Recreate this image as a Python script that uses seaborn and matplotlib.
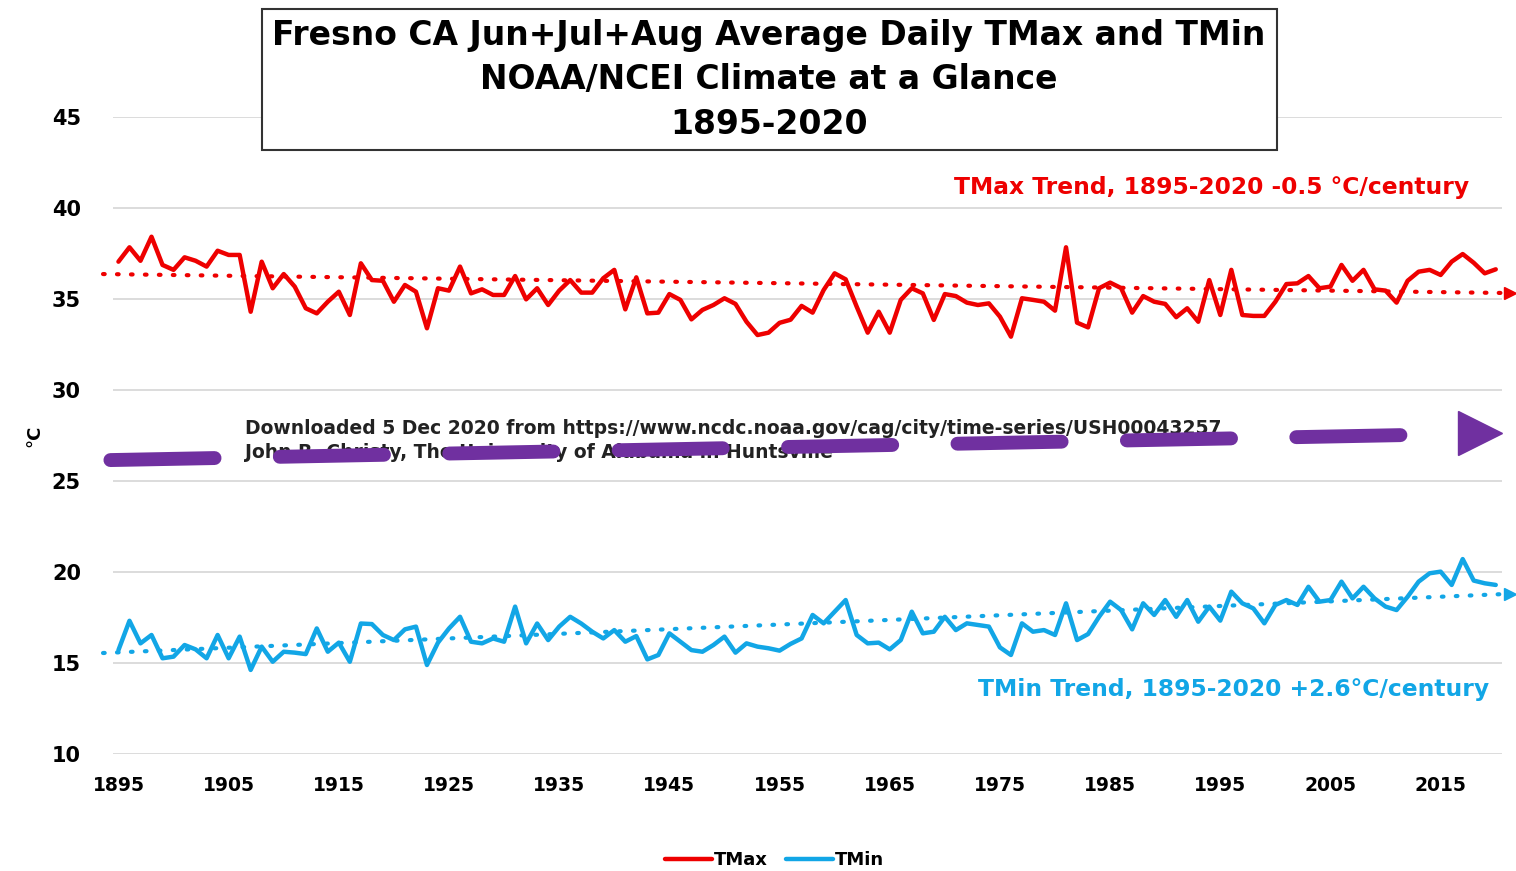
import numpy as np
import pandas as pd
import seaborn as sns
import matplotlib.pyplot as plt
from matplotlib.patches import Rectangle

# Fresno CA, Jun+Jul+Aug average daily TMax / TMin (deg C)
years = list(range(1895, 2021))
tmax = [37.05, 37.84, 37.10, 38.42, 36.87, 36.60, 37.29, 37.10, 36.78, 37.65,
        37.42, 37.42, 34.30, 37.05, 35.59, 36.37, 35.68, 34.49, 34.21, 34.85,
        35.40, 34.12, 36.96, 36.04, 36.00, 34.85, 35.77, 35.40, 33.39, 35.59,
        35.46, 36.78, 35.31, 35.53, 35.22, 35.22, 36.26, 34.98, 35.59, 34.67,
        35.46, 36.04, 35.35, 35.35, 36.14, 36.60, 34.43, 36.19, 34.21, 34.25,
        35.27, 34.95, 33.88, 34.40, 34.67, 35.04, 34.73, 33.75, 33.02, 33.15,
        33.69, 33.86, 34.62, 34.25, 35.49, 36.41, 36.08, 34.58, 33.15, 34.30,
        33.15, 34.95, 35.59, 35.31, 33.85, 35.27, 35.16, 34.80, 34.67, 34.76,
        34.03, 32.93, 35.04, 34.95, 34.85, 34.36, 37.84, 33.70, 33.44, 35.59,
        35.90, 35.60, 34.25, 35.16, 34.85, 34.73, 34.00, 34.49, 33.75, 36.04,
        34.12, 36.60, 34.12, 34.07, 34.07, 34.85, 35.82, 35.86, 36.26, 35.59,
        35.68, 36.87, 36.00, 36.60, 35.53, 35.46, 34.80, 36.00, 36.50, 36.60,
        36.32, 37.05, 37.47, 36.99, 36.41, 36.63]
tmin = [15.71, 17.32, 16.08, 16.54, 15.26, 15.35, 15.99, 15.75, 15.26, 16.54,
        15.26, 16.45, 14.62, 15.90, 15.07, 15.62, 15.57, 15.49, 16.90, 15.62,
        16.12, 15.07, 17.17, 17.14, 16.54, 16.26, 16.85, 17.00, 14.89, 16.12,
        16.90, 17.54, 16.17, 16.08, 16.35, 16.17, 18.10, 16.08, 17.17, 16.26,
        17.00, 17.54, 17.17, 16.72, 16.35, 16.81, 16.17, 16.48, 15.20, 15.44,
        16.63, 16.17, 15.71, 15.62, 15.99, 16.45, 15.57, 16.08, 15.90, 15.81,
        15.68, 16.05, 16.35, 17.64, 17.18, 17.82, 18.46, 16.54, 16.08, 16.12,
        15.75, 16.26, 17.82, 16.63, 16.72, 17.54, 16.81, 17.18, 17.09, 17.00,
        15.86, 15.44, 17.18, 16.72, 16.81, 16.54, 18.28, 16.26, 16.59, 17.54,
        18.37, 17.91, 16.85, 18.28, 17.64, 18.46, 17.54, 18.46, 17.27, 18.10,
        17.33, 18.92, 18.28, 18.00, 17.18, 18.19, 18.46, 18.19, 19.19, 18.37,
        18.46, 19.47, 18.55, 19.19, 18.55, 18.10, 17.91, 18.64, 19.47, 19.93,
        20.02, 19.29, 20.71, 19.53, 19.38, 19.29]
# trend lines as drawn on the chart (start / end values)
trend_years = [1893.6, 2020.8]
tmax_trend = [36.37, 35.33]
tmin_trend = [15.55, 18.79]
series_names = ['TMax', 'TMin']
xtick_years = list(range(1895, 2016, 10))
yticks = list(range(10, 46, 5))

red = '#EE0000'
blue = '#12A6E6'
purple = '#7030A0'

df = pd.DataFrame({
    'year': years * 2,
    'value': tmax + tmin,
    'series': ['TMax'] * len(years) + ['TMin'] * len(years),
})

sns.set_theme(style='white')
plt.rcParams['font.family'] = ['DejaVu Sans']
plt.rcParams['font.weight'] = 'bold'
plt.rcParams['text.color'] = 'black'
plt.rcParams['xtick.color'] = 'black'
plt.rcParams['ytick.color'] = 'black'
plt.rcParams['axes.labelcolor'] = 'black'

fig = plt.figure(figsize=(15.16, 8.71), dpi=100)
ax = fig.add_axes([0.0745, 0.1343, 0.9165, 0.7314])

sns.lineplot(data=df, x='year', y='value', hue='series',
             palette={'TMax': red, 'TMin': blue}, linewidth=3.2, ax=ax, legend=False)

# dotted trend lines with small arrowheads
for tr, col in [(tmax_trend, red), (tmin_trend, blue)]:
    ax.plot(trend_years, tr, color=col, lw=3.0, dashes=(0.4, 2.95),
            dash_capstyle='round', clip_on=False, zorder=3)
    slope = (tr[1] - tr[0]) / (trend_years[1] - trend_years[0])
    ax.plot(trend_years[1] + 0.5, tr[1] + slope * 0.5, marker='>', ms=8,
            color=col, clip_on=False, zorder=3)

ax.set_xlim(1894.5, 2020.6)
ax.set_ylim(10, 45)
ax.set_xticks(xtick_years)
ax.set_yticks(yticks)
ax.tick_params(axis='x', labelsize=13.5, pad=16, length=0)
ax.tick_params(axis='y', labelsize=15, pad=23, length=0)
for lab in ax.get_xticklabels() + ax.get_yticklabels():
    lab.set_fontweight('bold')
ax.grid(axis='y', color='#D9D9D9', lw=1.3)
ax.grid(axis='x', visible=False)
sns.despine(ax=ax, left=True, bottom=True)
ax.set_xlabel('')
ax.set_ylabel('°C', fontsize=13, fontweight='bold', labelpad=6)

ax.text(2017.6, 41.1, 'TMax Trend, 1895-2020 -0.5 °C/century', color=red,
        fontsize=16.8, fontweight='bold', ha='right', va='center')
ax.text(2019.4, 13.57, 'TMin Trend, 1895-2020 +2.6°C/century', color=blue,
        fontsize=16.8, fontweight='bold', ha='right', va='center')

ax.text(1906.5, 27.9, 'Downloaded 5 Dec 2020 from https://www.ncdc.noaa.gov/cag/city/time-series/USH00043257',
        fontsize=13.5, fontweight='bold', color='#222222', va='center', zorder=4)
ax.text(1906.5, 26.55, 'John R. Christy, The University of Alabama in Huntsville',
        fontsize=13.5, fontweight='bold', color='#222222', va='center', zorder=4)

# purple dashed arrow drawn over the note
ax.plot([1894.27, 2012.2], [26.15, 27.53], color=purple, lw=10,
        dashes=(7.5, 4.7), dash_capstyle='round', clip_on=False, zorder=5)
ax.plot(2018.6, 27.64, marker='>', ms=31, color=purple, clip_on=False, zorder=5)

# title box
fig.patches.append(Rectangle((0.1728, 0.8278), 0.6695, 0.1619, transform=fig.transFigure,
                             facecolor='white', edgecolor='#333333', lw=1.5, zorder=1))
fig.text(0.507, 0.9587, 'Fresno CA Jun+Jul+Aug Average Daily TMax and TMin',
         ha='center', va='center', fontsize=23.8, fontweight='bold', zorder=3)
fig.text(0.507, 0.9082, 'NOAA/NCEI Climate at a Glance',
         ha='center', va='center', fontsize=23.8, fontweight='bold', zorder=3)
fig.text(0.507, 0.8565, '1895-2020',
         ha='center', va='center', fontsize=23.8, fontweight='bold', zorder=3)

handles = [plt.Line2D([], [], color=red, lw=3.2), plt.Line2D([], [], color=blue, lw=3.2)]
fig.legend(handles, series_names, loc='center', bbox_to_anchor=(0.511, 0.0126), ncol=2,
           frameon=False, handlelength=2.6, handletextpad=0.1,
           columnspacing=1.0, prop={'weight': 'bold', 'size': 13})

fig.savefig('out.png', dpi=100)
